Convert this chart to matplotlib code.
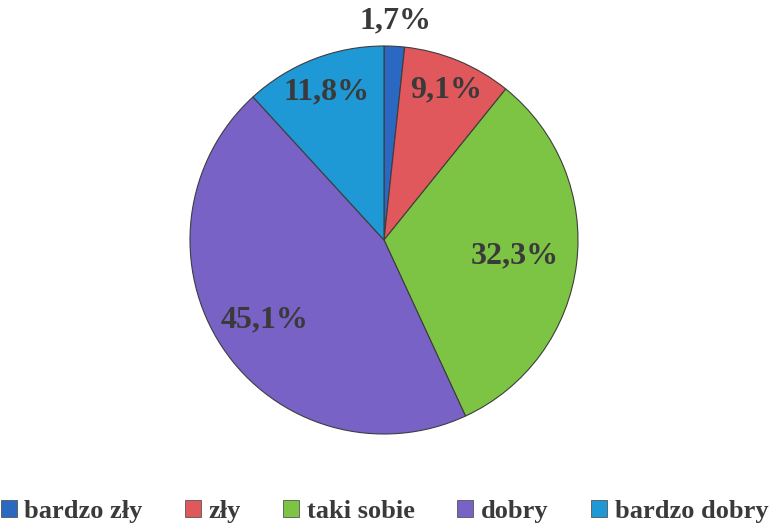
import numpy as np
import matplotlib.pyplot as plt

labels = ["bardzo zły", "zły", "taki sobie", "dobry", "bardzo dobry"]
values = [1.7, 9.1, 32.3, 45.1, 11.8]
pct_text = ["1,7%", "9,1%", "32,3%", "45,1%", "11,8%"]
colors = ["#2a68c2", "#e0575c", "#7dc444", "#7862c6", "#1f98d6"]
label_r = [1.13, 0.84, 0.68, 0.74, 0.82]

plt.rcParams["font.family"] = ["Liberation Serif", "DejaVu Serif"]

fig = plt.figure(figsize=(7.69, 5.28), dpi=100)
W, H = 769, 528
cx, cy, r = 384, 240, 194
ax = fig.add_axes([(cx - r) / W, (H - cy - r) / H, 2 * r / W, 2 * r / H])

wedges, _ = ax.pie(values, colors=colors, startangle=90, counterclock=False,
                   radius=1.0,
                   wedgeprops=dict(edgecolor="#3d3d3d", linewidth=0.8))
ax.set_xlim(-1, 1)
ax.set_ylim(-1, 1)
ax.set_aspect("equal")

for w, t, lr in zip(wedges, pct_text, label_r):
    ang = np.deg2rad((w.theta1 + w.theta2) / 2)
    ax.text(lr * np.cos(ang), lr * np.sin(ang), t, ha="center", va="center",
            fontsize=23, fontweight="bold", color="#3a3a3a")

handles = [plt.Rectangle((0, 0), 1, 1, facecolor=c, edgecolor="#555555", linewidth=0.6)
           for c in colors]
leg = fig.legend(handles, labels, loc="lower center", bbox_to_anchor=(0.5, -0.035),
                 ncol=5, frameon=False, handlelength=0.6, handleheight=0.6,
                 handletextpad=0.3, columnspacing=1.6,
                 prop=dict(size=19, weight="bold"))
for t in leg.get_texts():
    t.set_color("#3a3a3a")

fig.savefig("out.png", dpi=100)
